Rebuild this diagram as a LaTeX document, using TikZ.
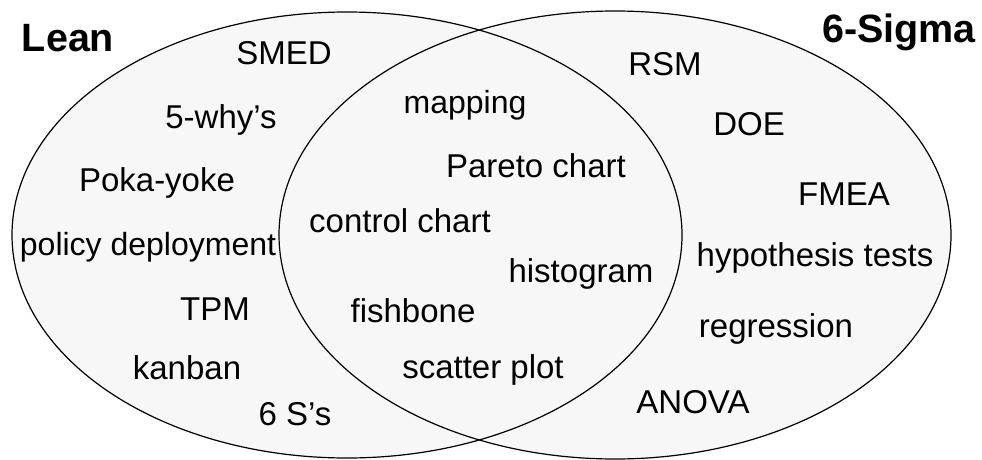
\documentclass[tikz,border=0pt]{standalone}
\usepackage{fontspec}
\setmainfont{Liberation Sans}
\definecolor{setfill}{HTML}{F7F7F7}
\tikzset{
  setshape/.style={draw=black, line width=1.2pt},
  item/.style={anchor=base, inner sep=0pt, font=\fontsize{33}{39}\selectfont},
  smallitem/.style={item, font=\fontsize{32}{38}\selectfont},
  settitle/.style={anchor=base, inner sep=0pt, font=\fontsize{39.5}{46}\selectfont\bfseries},
}
\begin{document}
\begin{tikzpicture}[x=1pt,y=-1pt]
\useasboundingbox (0,0) rectangle (982,460);
% fills
\fill[setfill] (347,235) ellipse [x radius=335, y radius=223];
\fill[setfill] (615,235) ellipse [x radius=336, y radius=224];
% outlines
\draw[setshape] (347,235) ellipse [x radius=335, y radius=223];
\draw[setshape] (615,235) ellipse [x radius=336, y radius=224];
% titles
\node[settitle] (lean) at (68,52) {Lean};
\node[settitle] (sigma) at (899,43) {6-Sigma};
% Lean only
\node[item] (smed) at (284,65) {SMED};
\node[item] (why) at (221,128) {5-why’s};
\node[item] (poka) at (157,191) {Poka-yoke};
\node[smallitem] (policy) at (148,255) {policy deployment};
\node[item] (tpm) at (215,320) {TPM};
\node[item] (kanban) at (187,379) {kanban};
\node[item] (sss) at (295,425) {6 S’s};
% overlap
\node[smallitem] (mapping) at (465,113) {mapping};
\node[item] (pareto) at (536,177) {Pareto chart};
\node[item] (control) at (400,232) {control chart};
\node[item] (histo) at (581,282) {histogram};
\node[item] (fish) at (413,322) {fishbone};
\node[item] (scatter) at (483,378) {scatter plot};
% 6-Sigma only
\node[item] (rsm) at (665,75) {RSM};
\node[item] (doe) at (749,135) {DOE};
\node[item] (fmea) at (844,205) {FMEA};
\node[item] (hyp) at (815,266) {hypothesis tests};
\node[item] (reg) at (776,337) {regression};
\node[item] (anova) at (693,413) {ANOVA};
\end{tikzpicture}
\end{document}
